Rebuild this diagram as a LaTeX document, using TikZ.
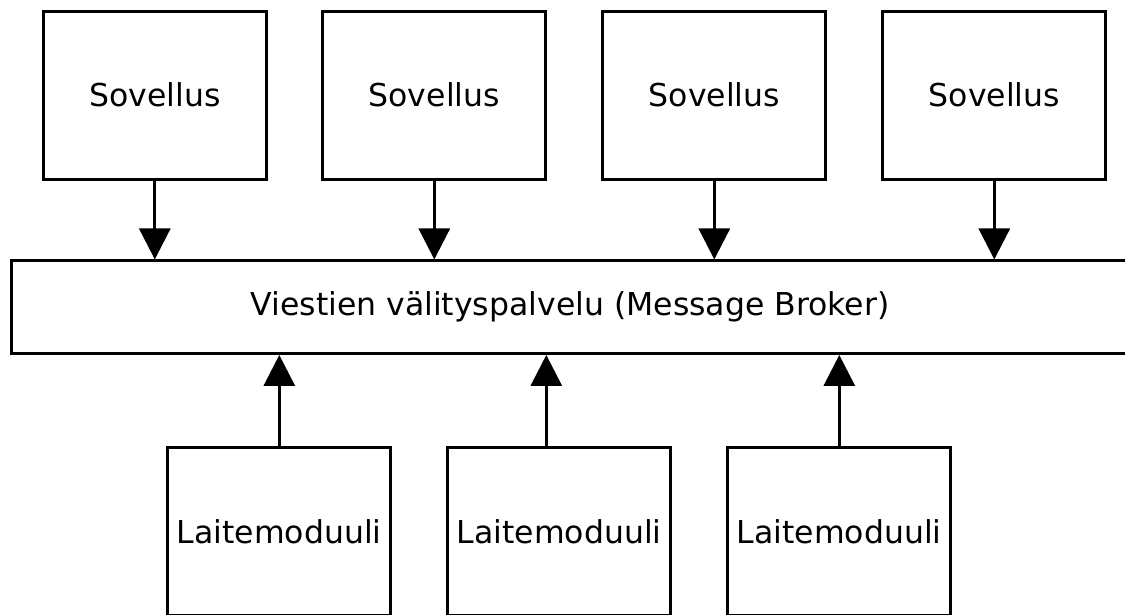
\documentclass[tikz,border=0pt]{standalone}
\usepackage{fontspec}
\setmainfont{DejaVu Sans}
\usetikzlibrary{arrows.meta}
\begin{document}
\begin{tikzpicture}[x=1pt,y=-1pt,
  box/.style={draw=black, line width=3pt, fill=white, inner sep=0pt,
    minimum width=223pt, minimum height=168pt,
    font=\fontsize{31.5}{37}\selectfont},
  bus/.style={draw=black, line width=3pt, fill=white, inner sep=0pt,
    minimum width=1118pt, minimum height=92.5pt,
    font=\fontsize{31.5}{37}\selectfont},
  arr/.style={line width=3pt, -{Triangle[width=31pt,length=31pt]}}]
  \useasboundingbox (0,0) rectangle (1125,614);
  \clip (0,0) rectangle (1125,614);

  % message broker
  \node[bus] (broker) at (570.7,307.2) {};
  \node[font=\fontsize{31.5}{37}\selectfont] (blabel) at (570,307) {Viestien välityspalvelu (Message Broker)};

  % applications
  \node[box] (s1) at (154.8,95.2) {Sovellus};
  \node[box] (s2) at (434.3,95.2) {Sovellus};
  \node[box] (s3) at (714.3,95.2) {Sovellus};
  \node[box] (s4) at (994.3,95.2) {Sovellus};

  % device modules
  \node[box] (l1) at (279.3,531.3) {Laitemoduuli};
  \node[box] (l2) at (559.3,531.3) {Laitemoduuli};
  \node[box] (l3) at (839.3,531.3) {Laitemoduuli};

  % applications -> broker
  \foreach \s in {s1,s2,s3,s4}
    \draw[arr] (\s.south) -- (\s.south |- broker.north);

  % device modules -> broker
  \draw[arr] (l1.north) -- (l1.north |- broker.south);
  \draw[arr] ([xshift=-13pt]l2.north) -- ([xshift=-13pt]l2.north |- broker.south);
  \draw[arr] (l3.north) -- (l3.north |- broker.south);
\end{tikzpicture}
\end{document}
